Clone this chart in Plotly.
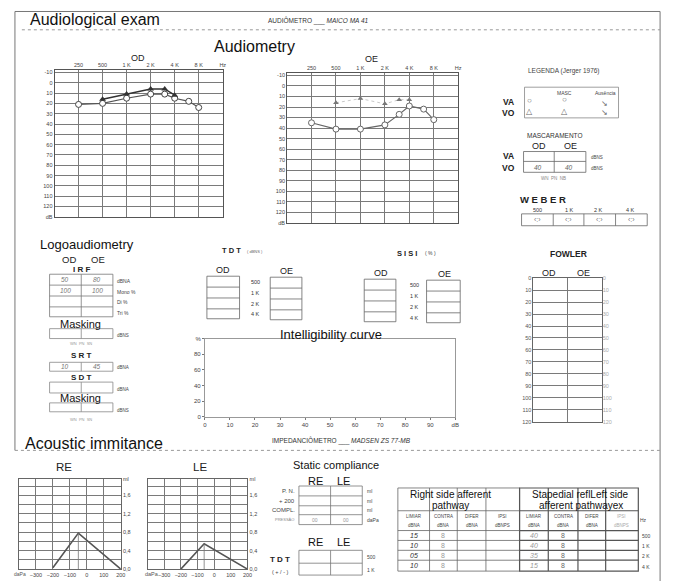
import numpy as np
import plotly.graph_objects as go

W, H = 673, 584
OFF = 8                       # default page margin of the html body
FW, FH = W - OFF, H - OFF     # figure size so that figure fills the window exactly
FONT = "Liberation Sans, Arial, sans-serif"

# ---------------- data ----------------
AUD_FREQ_TICKS = [250, 500, 1000, 2000, 4000, 8000, 16000]
AUD_FREQ_LABELS = ["250", "500", "1 K", "2 K", "4 K", "8 K", "Hz"]
AUD_DB_TICKS = list(range(-10, 131, 10))
AUD_DB_LABELS = [str(v) for v in range(-10, 121, 10)] + ["dB"]

OD_AC_FREQ = [250, 500, 1000, 2000, 3000, 4000, 6000, 8000]
OD_AC_DB = [21, 20, 15, 11, 11, 15, 18, 24]
OD_BC_FREQ = [500, 1000, 2000, 3000, 4000]
OD_BC_DB = [16, 11, 6, 6, 12]
OE_AC_FREQ = [250, 500, 1000, 2000, 3000, 4000, 6000, 8000]
OE_AC_DB = [35, 41, 41, 37, 27, 19, 22, 32]
OE_BC_FREQ = [500, 1000, 2000, 3000, 4000]
OE_BC_DB = [16, 12, 17, 13, 13]

FOWLER_TICKS = list(range(0, 121, 10))

INT_X_TICKS = list(range(0, 101, 10))
INT_X_LABELS = [str(v) for v in range(0, 91, 10)] + ["dB"]
INT_Y_TICKS = [0, 20, 40, 60, 80, 100]
INT_Y_LABELS = ["0", "20", "40", "60", "80", "%"]

TYMP_P_TICKS = [-300, -200, -100, 0, 100, 200]
TYMP_C_TICKS = [0, 0.4, 0.8, 1.2, 1.6, 1.95]
TYMP_C_LABELS = ["0,0", "0,4", "0,8", "1,2", "1,6", "ml"]
TYMP_C_MINOR = [0.2, 0.6, 1.0, 1.4, 1.8]
RE_P = [-200, -50, 200]
RE_C = [0.03, 0.78, 0.0]
LE_P = [-200, -60, 200]
LE_C = [0.0, 0.55, 0.0]

IRF_ROWS = ["dBNA", "Mono %", "Di %", "Tri %"]
IRF_OD = ["50", "100", "", ""]
IRF_OE = ["80", "100", "", ""]
SRT_VALUES = ["10", "45"]
MASC_VO = ["40", "40"]
FREQ_ROWS = ["500", "1 K", "2 K", "4 K"]
WEBER_FREQS = ["500", "1 K", "2 K", "4 K"]
PRESSURE_VALUES = ["00", "00"]
REFLEX_RIGHT_LIMIAR = ["15", "10", "05", "10"]
REFLEX_RIGHT_CONTRA = ["8", "8", "8", "8"]
REFLEX_LEFT_LIMIAR = ["40", "40", "35", "15"]
REFLEX_LEFT_CONTRA = ["8", "8", "8", "8"]
REFLEX_HEADERS = [("LIMIAR", "dBNA"), ("CONTRA", "dBNA"), ("DIFER", "dBNA"), ("IPSI", "dBNPS")]

# ---------------- helpers ----------------
shapes, ann = [], []


def X(px):
    return (px - OFF) / FW


def Y(py):
    return 1 - (py - OFF) / FH


def seg(x0, y0, x1, y1, color="#555", w=0.8, dash="solid"):
    shapes.append(dict(type="line", xref="paper", yref="paper", x0=X(x0), y0=Y(y0),
                       x1=X(x1), y1=Y(y1), line=dict(color=color, width=w, dash=dash)))


def box(x0, y0, x1, y1, color="#555", w=0.8, rows=(), cols=()):
    shapes.append(dict(type="rect", xref="paper", yref="paper", x0=X(x0), y0=Y(y1),
                       x1=X(x1), y1=Y(y0), line=dict(color=color, width=w),
                       fillcolor="rgba(0,0,0,0)"))
    for r in rows:
        seg(x0, r, x1, r, color, w)
    for c in cols:
        seg(c, y0, c, y1, color, w)


def T(x, y, s, size=6, color="#333", xa="center", ya="middle", bold=False, italic=False):
    if bold:
        s = "<b>" + s + "</b>"
    if italic:
        s = "<i>" + s + "</i>"
    ann.append(dict(x=X(x), y=Y(y), xref="paper", yref="paper", text=s, showarrow=False,
                    xanchor=xa, yanchor=ya, borderpad=0,
                    font=dict(size=size, color=color, family=FONT)))


fig = go.Figure()
GRID = "#7a7a7a"
TICKF = dict(size=5.5, color="#444", family=FONT)

# ---------------- audiograms ----------------
def aud_axes(n, xd, yd):
    xa = dict(type="log", range=[np.log10(125), np.log10(16000)], domain=xd, side="top",
              tickvals=AUD_FREQ_TICKS, ticktext=AUD_FREQ_LABELS, showgrid=True,
              gridcolor=GRID, gridwidth=0.7, showline=True, mirror=True, linecolor="#555",
              linewidth=0.9, ticks="", tickfont=TICKF, zeroline=False,
              anchor="y" + ("" if n == 1 else str(n)), fixedrange=True)
    ya = dict(range=[130, -12], domain=yd, tickvals=AUD_DB_TICKS, ticktext=AUD_DB_LABELS,
              showgrid=True, gridcolor=GRID, gridwidth=0.7, showline=True, mirror=True,
              linecolor="#555", linewidth=0.9, ticks="", tickfont=TICKF, zeroline=False,
              anchor="x" + ("" if n == 1 else str(n)), fixedrange=True)
    return xa, ya


xa1, ya1 = aud_axes(1, [X(53), X(223)], [Y(216), Y(68)])
xa2, ya2 = aud_axes(2, [X(288), X(461)], [Y(222), Y(71)])

fig.add_trace(go.Scatter(x=OD_AC_FREQ, y=OD_AC_DB, mode="lines+markers", xaxis="x", yaxis="y",
                         line=dict(color="#555", width=1.2),
                         marker=dict(symbol="circle", size=6, color="white",
                                     line=dict(color="#444", width=1)), showlegend=False))
fig.add_trace(go.Scatter(x=OD_BC_FREQ, y=OD_BC_DB, mode="lines+markers", xaxis="x", yaxis="y",
                         line=dict(color="#333", width=1.5),
                         marker=dict(symbol="triangle-up", size=6, color="#333"),
                         showlegend=False))
fig.add_trace(go.Scatter(x=OE_AC_FREQ, y=OE_AC_DB, mode="lines+markers", xaxis="x2", yaxis="y2",
                         line=dict(color="#666", width=1.1),
                         marker=dict(symbol="circle", size=6, color="white",
                                     line=dict(color="#666", width=1)), showlegend=False))
fig.add_trace(go.Scatter(x=OE_BC_FREQ, y=OE_BC_DB, mode="lines+markers", xaxis="x2", yaxis="y2",
                         line=dict(color="#bbb", width=0.8, dash="dot"),
                         marker=dict(symbol="triangle-up", size=5, color="#777"),
                         showlegend=False))

T(137, 55, "OD", 9, "#222")
T(373, 57, "OE", 9, "#222")

# ---------------- Fowler ----------------
xa3 = dict(range=[0, 2], domain=[X(537), X(606)], tickvals=[1], showticklabels=False,
           showgrid=True, gridcolor=GRID, gridwidth=0.7, showline=True, mirror=True,
           linecolor="#666", ticks="", zeroline=False, anchor="y3", fixedrange=True)
ya3 = dict(range=[120, 0], domain=[Y(423), Y(278)], tickvals=FOWLER_TICKS,
           showgrid=True, gridcolor=GRID, gridwidth=0.7, showline=True, mirror=True,
           linecolor="#666", ticks="", tickfont=dict(size=5.5, color="#555", family=FONT),
           zeroline=False, anchor="x3", fixedrange=True)
ya7 = dict(range=[120, 0], overlaying="y3", side="right", tickvals=FOWLER_TICKS,
           showgrid=False, showline=False, ticks="", zeroline=False, anchor="x3",
           tickfont=dict(size=5.5, color="#aaa", family=FONT), fixedrange=True)
fig.add_trace(go.Scatter(x=[None], y=[None], xaxis="x3", yaxis="y3", showlegend=False, hoverinfo="skip"))
fig.add_trace(go.Scatter(x=[None], y=[None], xaxis="x3", yaxis="y7", showlegend=False, hoverinfo="skip"))
T(572, 254, "FOWLER", 8.5, "#222", bold=True)
T(553, 273, "OD", 9, "#222")
T(588, 273, "OE", 9, "#222")

# ---------------- Intelligibility curve ----------------
xa4 = dict(range=[0, 100], domain=[X(205), X(458)], tickvals=INT_X_TICKS, ticktext=INT_X_LABELS,
           showgrid=False, showline=True, mirror=True, linecolor="#999", ticks="outside",
           ticklen=2, tickcolor="#777", tickfont=dict(size=6, color="#444", family=FONT),
           zeroline=False, anchor="y4", fixedrange=True)
ya4 = dict(range=[0, 100], domain=[Y(418), Y(339)], tickvals=INT_Y_TICKS, ticktext=INT_Y_LABELS,
           showgrid=False, showline=True, mirror=True, linecolor="#999", ticks="outside",
           ticklen=2, tickcolor="#777", tickfont=dict(size=6, color="#444", family=FONT),
           zeroline=False, anchor="x4", fixedrange=True)
fig.add_trace(go.Scatter(x=[None], y=[None], xaxis="x4", yaxis="y4", showlegend=False, hoverinfo="skip"))
T(332, 335, "Intelligibility curve", 13, "#111")

# ---------------- tympanograms ----------------
def tymp_axes(n, xd):
    xa = dict(range=[-400, 200], domain=xd, tickvals=TYMP_P_TICKS, showgrid=True,
              gridcolor=GRID, gridwidth=0.7, showline=True, mirror=True, linecolor="#666",
              ticks="", tickfont=dict(size=5.5, color="#444", family=FONT), zeroline=False,
              anchor="y%d" % n, fixedrange=True)
    ya = dict(range=[0, 1.95], domain=[Y(572), Y(481)], side="right", tickvals=TYMP_C_TICKS,
              ticktext=TYMP_C_LABELS, showgrid=True, gridcolor=GRID, gridwidth=0.7,
              minor=dict(tickvals=TYMP_C_MINOR, showgrid=True, gridcolor=GRID, gridwidth=0.7, ticks=""),
              showline=True, mirror=True, linecolor="#666", ticks="",
              tickfont=dict(size=5.5, color="#444", family=FONT), zeroline=False,
              anchor="x%d" % n, fixedrange=True)
    return xa, ya


xa5, ya5 = tymp_axes(5, [X(17), X(120)])
xa6, ya6 = tymp_axes(6, [X(147), X(248)])
for (P, C, n) in [(RE_P, RE_C, 5), (LE_P, LE_C, 6)]:
    fig.add_trace(go.Scatter(x=P, y=C, mode="lines", xaxis="x%d" % n, yaxis="y%d" % n,
                             line=dict(color="#555", width=1.6), showlegend=False))
    fig.add_trace(go.Scatter(x=[P[1], P[1]], y=[0, C[1]], mode="lines", xaxis="x%d" % n,
                             yaxis="y%d" % n, line=dict(color="#777", width=0.8), showlegend=False))
T(63, 469, "RE", 11.5, "#222")
T(200, 469, "LE", 11.5, "#222")
T(25, 577, "daPa", 5, "#555", xa="right")
T(160, 577, "daPa", 5.5, "#555", xa="right")

# ---------------- frame and headers ----------------
seg(13, 8.5, 665, 8.5, "#777", 1)
seg(13, 8.5, 13, 452, "#777", 1)
seg(665, 8.5, 665, 584, "#777", 1)
seg(20, 27, 665, 27, "#999", 1, "dot")
seg(13, 452, 665, 452, "#999", 1, "dot")

T(27, 17, "Audiological exam", 16, "#111", xa="left")
T(268, 18, "AUDIÔMETRO ___ <i>MAICO MA 41</i>", 6.5, "#333", xa="left")
T(213, 44, "Audiometry", 16, "#111", xa="left")
T(37, 244, "Logoaudiometry", 13, "#111", xa="left")
T(22, 445, "Acoustic immitance", 16, "#111", xa="left")
T(272, 442, "IMPEDANCIÔMETRO ___ <i>MADSEN ZS 77-MB</i>", 6.5, "#333", xa="left")

# ---------------- legend (Jerger) ----------------
T(568, 69, "LEGENDA (Jerger 1976)", 6.5, "#444")
box(528, 85, 623, 116, "#777", 0.7)
T(568, 91, "MASC", 5, "#444")
T(610, 91, "Ausência", 5, "#444")
T(512, 100, "VA", 8.5, "#222", bold=True)
T(512, 111, "VO", 8.5, "#222", bold=True)
for (x, y, s) in [(533, 98, "○"), (568, 97, "○"), (609, 101, "↘"),
                  (533, 110, "△"), (568, 110, "△"), (609, 111, "↘")]:
    T(x, y, s, 8, "#666")

# ---------------- mascaramento ----------------
T(559, 134, "MASCARAMENTO", 6.5, "#333")
T(543, 144, "OD", 9, "#222")
T(574, 144, "OE", 9, "#222")
box(527, 150, 590, 171, "#666", 0.8, rows=[160], cols=[558])
T(512, 155, "VA", 8.5, "#222", bold=True)
T(512, 167, "VO", 8.5, "#222", bold=True)
T(542, 166, MASC_VO[0], 6.5, "#666", italic=True)
T(573, 166, MASC_VO[1], 6.5, "#666", italic=True)
T(594, 156, "dBNS", 4.5, "#444", xa="left")
T(594, 167, "dBNS", 4.5, "#444", xa="left")
T(557, 177, "WN  PN  NB", 4.5, "#888")

# ---------------- Weber ----------------
T(547, 198, "W E B E R", 9.5, "#222", bold=True)
for x, s in zip([541, 573, 603, 635], WEBER_FREQS):
    T(x, 209, s, 5.5, "#333")
box(525, 213, 652, 225, "#666", 0.8, cols=[557, 588, 620])
for x in [541, 572, 604, 636]:
    T(x, 219, "‹:›", 7, "#777")

# ---------------- Logoaudiometry tables ----------------
T(68, 259, "OD", 9.5, "#222")
T(97, 259, "OE", 9.5, "#222")
T(80, 269, "I R F", 8, "#222", bold=True)
box(48, 274, 112, 317, "#777", 0.8, rows=[285, 296, 307], cols=[80])
for i, yc in enumerate([279.5, 290.5, 301.5, 312]):
    T(64, yc, IRF_OD[i], 6.5, "#777", italic=True)
    T(96, yc, IRF_OE[i], 6.5, "#777", italic=True)
    T(115, yc + 1, IRF_ROWS[i], 5, "#444", xa="left")
T(79, 324, "Masking", 11, "#111")
box(48, 329, 112, 339, "#888", 0.8, cols=[80])
T(115, 336, "dBNS", 4.5, "#444", xa="left")
T(80, 344, "WN  PN  SN", 4, "#999")
T(80, 356, "S R T", 8, "#222", bold=True)
box(48, 363, 112, 372, "#888", 0.8, cols=[80])
T(64, 367.5, SRT_VALUES[0], 6.5, "#777", italic=True)
T(96, 367.5, SRT_VALUES[1], 6.5, "#777", italic=True)
T(115, 368, "dBNA", 4.5, "#444", xa="left")
T(80, 378, "S D T", 8, "#222", bold=True)
box(48, 383, 112, 394, "#888", 0.8, cols=[80])
T(115, 390, "dBNA", 4.5, "#444", xa="left")
T(79, 399, "Masking", 11, "#111")
box(48, 404, 112, 413, "#888", 0.8, cols=[80])
T(115, 412, "dBNS", 4.5, "#444", xa="left")
T(80, 421, "WN  PN  SN", 4, "#999")

# ---------------- TDT / SISI ----------------
T(232, 250, "T D T", 7.5, "#222", bold=True)
T(247, 251, "( dBNS )", 4, "#666", xa="left")
T(223, 270, "OD", 9, "#222")
T(287, 271, "OE", 9, "#222")
box(207, 276, 240, 319, "#666", 0.8, rows=[287, 298, 309])
box(271, 277, 303, 320, "#666", 0.8, rows=[288, 299, 310])
for yc, s in zip([282, 293, 304, 314], FREQ_ROWS):
    T(256, yc, s, 5.5, "#333")

T(409, 253, "S I S I", 7.5, "#222", bold=True)
T(433, 253, "( % )", 5, "#444")
T(383, 273, "OD", 9, "#222")
T(447, 274, "OE", 9, "#222")
box(366, 279, 398, 322, "#666", 0.8, rows=[290, 301, 312])
box(429, 280, 463, 323, "#666", 0.8, rows=[291, 302, 313])
for yc, s in zip([285, 296, 307, 318], FREQ_ROWS):
    T(417, yc, s, 5.5, "#333")

# ---------------- Static compliance ----------------
T(337, 467, "Static compliance", 11, "#111")
T(317, 483, "RE", 11, "#111")
T(345, 483, "LE", 11, "#111")
box(300, 488, 364, 527, "#777", 0.8, rows=[498, 508, 517], cols=[332])
T(297, 493, "P. N.", 6, "#444", xa="right")
T(297, 503, "+ 200", 6, "#444", xa="right")
T(297, 512, "COMPL.", 6, "#444", xa="right")
T(296, 522, "PRESSÃO", 4, "#888", xa="right")
for yc in [493, 503, 512]:
    T(368, yc, "ml", 5, "#444", xa="left")
T(368, 522, "daPa", 5, "#444", xa="left")
T(316, 522, PRESSURE_VALUES[0], 5, "#999")
T(348, 522, PRESSURE_VALUES[1], 5, "#999")

T(317, 545, "RE", 11, "#111")
T(345, 545, "LE", 11, "#111")
T(281, 562, "T D T", 8, "#222", bold=True)
T(281, 575, "( + / - )", 5.5, "#444")
box(300, 553, 364, 578, "#777", 0.8, rows=[566], cols=[332])
T(368, 560, "500", 5, "#444", xa="left")
T(368, 573, "1 K", 5, "#444", xa="left")

# ---------------- Stapedial reflex table ----------------
LCOLS = [400, 432, 460, 489, 523]
RCOLS = [523, 552, 582, 610, 643]
ROWS = [533, 543, 553, 563, 574]
box(400, 490, 523, 574, "#666", 0.8, rows=[513] + ROWS[:-1], cols=LCOLS[1:-1])
box(523, 490, 643, 574, "#555", 1.2, rows=[513] + ROWS[:-1], cols=RCOLS[1:-1])
T(453, 497, "Right side afferent", 10, "#111")
T(453, 508, "pathway", 10, "#111")
T(585, 497, "Stapedial reflLeft side", 10, "#111")
T(585, 508, "afferent pathwayex", 10, "#111")
for cols in (LCOLS, RCOLS):
    for j, (h1, h2) in enumerate(REFLEX_HEADERS):
        xc = (cols[j] + cols[j + 1]) / 2
        col = "#aaa" if (cols is RCOLS and j == 3) else "#444"
        T(xc, 519, h1, 4.5, col)
        T(xc, 528, h2, 4.5, col)
T(648, 522, "Hz", 5, "#444")
for i in range(4):
    yc = (ROWS[i] + ROWS[i + 1]) / 2
    T((LCOLS[0] + LCOLS[1]) / 2, yc, REFLEX_RIGHT_LIMIAR[i], 7, "#333", italic=True)
    T((LCOLS[1] + LCOLS[2]) / 2, yc, REFLEX_RIGHT_CONTRA[i], 7, "#999")
    T((RCOLS[0] + RCOLS[1]) / 2, yc, REFLEX_LEFT_LIMIAR[i], 7, "#999", italic=True)
    T((RCOLS[1] + RCOLS[2]) / 2, yc, REFLEX_LEFT_CONTRA[i], 7, "#666")
    T(646, yc + 1, FREQ_ROWS[i], 5, "#444", xa="left")

fig.update_layout(
    width=FW, height=FH, margin=dict(l=0, r=0, t=0, b=0),
    paper_bgcolor="white", plot_bgcolor="rgba(0,0,0,0)",
    showlegend=False, font=dict(family=FONT),
    xaxis=xa1, yaxis=ya1, xaxis2=xa2, yaxis2=ya2, xaxis3=xa3, yaxis3=ya3,
    xaxis4=xa4, yaxis4=ya4, xaxis5=xa5, yaxis5=ya5, xaxis6=xa6, yaxis6=ya6, yaxis7=ya7,
    shapes=shapes, annotations=ann,
)
fig.write_html("out.html")
